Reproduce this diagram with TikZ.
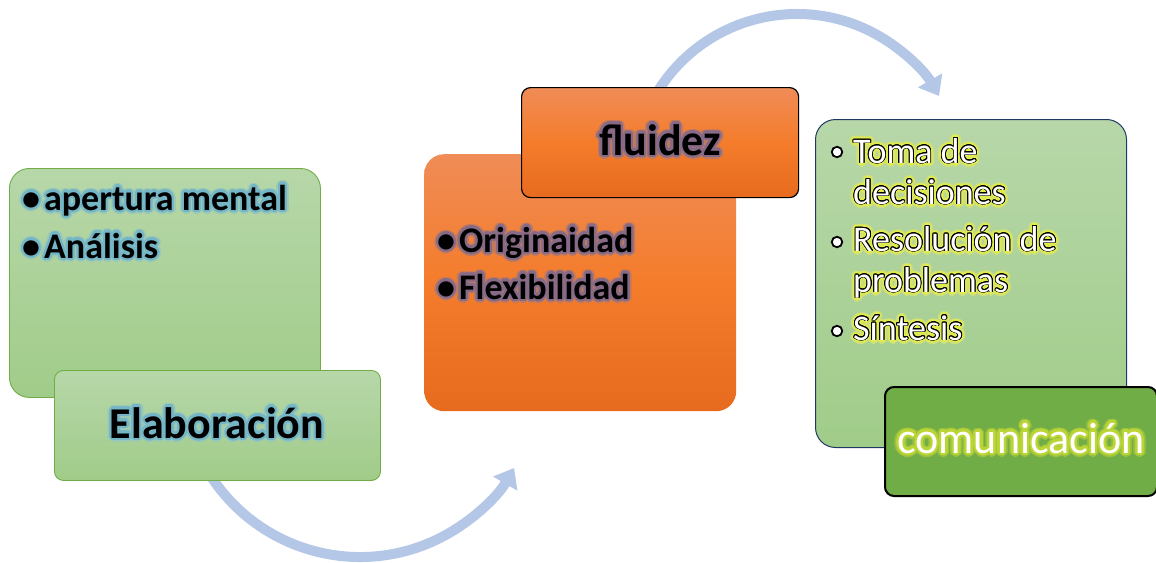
\documentclass[tikz,border=0pt]{standalone}
\usepackage{fontspec}
\setmainfont{Carlito}
\usetikzlibrary{arrows.meta}
\definecolor{arrowblue}{HTML}{B4C7E7}
\definecolor{lgtop}{HTML}{B7D7A9}
\definecolor{lgbot}{HTML}{A0CC89}
\definecolor{lgborder}{HTML}{70AD47}
\definecolor{ortop}{HTML}{F08C57}
\definecolor{ormid}{HTML}{F47C2B}
\definecolor{orbot}{HTML}{E76B1E}
\definecolor{navy}{HTML}{203864}
\definecolor{dkgreen}{HTML}{70AD47}
\definecolor{tealin}{HTML}{74B6C6}
\definecolor{tealout}{HTML}{9AC9B6}
\definecolor{purpin}{HTML}{876A86}
\definecolor{purpout}{HTML}{BE7A60}
\definecolor{yelin}{HTML}{E1EC4C}
\definecolor{yelout}{HTML}{CDE07C}
\definecolor{cgin}{HTML}{BCD536}
\definecolor{cgout}{HTML}{98C140}
\newcommand\halo[3]{%
  \foreach \hA in {0,22.5,...,337.5}{%
    \rlap{\hspace*{\fpeval{#2*cosd(\hA)}pt}\raisebox{\fpeval{#2*sind(\hA)}pt}{\textcolor{#1}{#3}}}}}
\newcommand\glowtext[4]{\halo{#1}{4}{#4}\halo{#2}{2.2}{#4}\textcolor{#3}{#4}}
\newcommand\outlinetext[3]{\halo{#1}{4}{#3}\halo{#2}{2.4}{#3}\halo{black}{0.9}{#3}\textcolor{white}{#3}}
\tikzset{
  bigbox/.style={rectangle, rounded corners=20pt, anchor=north west, inner sep=0pt},
  smallbox/.style={rectangle, rounded corners=9pt, anchor=north west, inner sep=0pt},
  greenfill/.style={top color=lgtop, bottom color=lgbot, draw=lgborder, line width=0.9pt},
  orangefill/.style={top color=ortop, bottom color=orbot, middle color=ormid},
  txt/.style={anchor=base west, inner sep=0pt, font=\fontsize{36}{40}\selectfont},
  bigtxt/.style={anchor=base, inner sep=0pt, font=\fontsize{44}{48}\selectfont},
  flow/.style={draw=arrowblue, line width=10pt, -{Triangle[width=27pt,length=18pt]}},
  hollow/.style={circle, draw=black, fill=white, line width=1.8pt, minimum size=10.5pt, inner sep=0pt}
}
\begin{document}
\begin{tikzpicture}[x=1pt,y=-1pt]
\useasboundingbox (0,0) rectangle (1156,562);
% arc centres
\coordinate (c1) at (360,379);
\coordinate (c2) at (797,178);
\draw[flow] ([shift={(150:178)}]c1) arc[start angle=150, end angle=30, radius=178];
\draw[flow] ([shift={(210:164)}]c2) arc[start angle=210, end angle=330, radius=164];
% left group
\node[bigbox, greenfill, minimum width=311pt, minimum height=229pt] (lbox) at (9,168) {};
\node[smallbox, greenfill, minimum width=326pt, minimum height=110pt] (elab) at (54,370) {};
\node[txt, font=\fontsize{36}{40}\selectfont\bfseries] (l1) at (22,210) {\glowtext{tealout}{tealin}{black}{•\kern4pt apertura mental}};
\node[txt, font=\fontsize{36}{40}\selectfont\bfseries] (l2) at (22,258) {\glowtext{tealout}{tealin}{black}{•\kern4pt Análisis}};
\node[bigtxt, font=\fontsize{44}{48}\selectfont\bfseries] (elabt) at (217,438) {\glowtext{tealout}{tealin}{black}{Elaboración}};
% middle group
\node[bigbox, orangefill, minimum width=312pt, minimum height=257pt] (obox) at (424,154) {};
\node[smallbox, orangefill, draw=black, line width=1.2pt, minimum width=277pt, minimum height=110pt] (flu) at (521,87) {};
\node[bigtxt, font=\fontsize{44}{48}\selectfont\bfseries] (flut) at (660,155) {\glowtext{purpout}{purpin}{black}{fluidez}};
\node[txt, font=\fontsize{36}{40}\selectfont\bfseries] (o1) at (437,252) {\glowtext{purpout}{purpin}{black}{•\kern4pt Originaidad}};
\node[txt, font=\fontsize{36}{40}\selectfont\bfseries] (o2) at (437,299) {\glowtext{purpout}{purpin}{black}{•\kern4pt Flexibilidad}};
% right group
\node[bigbox, top color=lgtop, bottom color=lgbot, draw=navy, line width=1pt, minimum width=311pt, minimum height=328pt] (rbox) at (815,119) {};
\node[smallbox, fill=dkgreen, draw=black, line width=2pt, minimum width=272pt, minimum height=109pt] (com) at (884,386) {};
\node[hollow] (b1) at (837,152) {};
\node[hollow] (b2) at (837,242) {};
\node[hollow] (b3) at (837,331) {};
\node[txt] (r1) at (853,163) {\outlinetext{yelout}{yelin}{Toma de}};
\node[txt] (r2) at (853,204) {\outlinetext{yelout}{yelin}{decisiones}};
\node[txt] (r3) at (853,251) {\outlinetext{yelout}{yelin}{Resolución de}};
\node[txt] (r4) at (853,292) {\outlinetext{yelout}{yelin}{problemas}};
\node[txt] (r5) at (853,340) {\outlinetext{yelout}{yelin}{Síntesis}};
\node[bigtxt] (comt) at (1021,453) {\glowtext{cgout}{cgin}{white}{comunicación}};
\end{tikzpicture}
\end{document}
